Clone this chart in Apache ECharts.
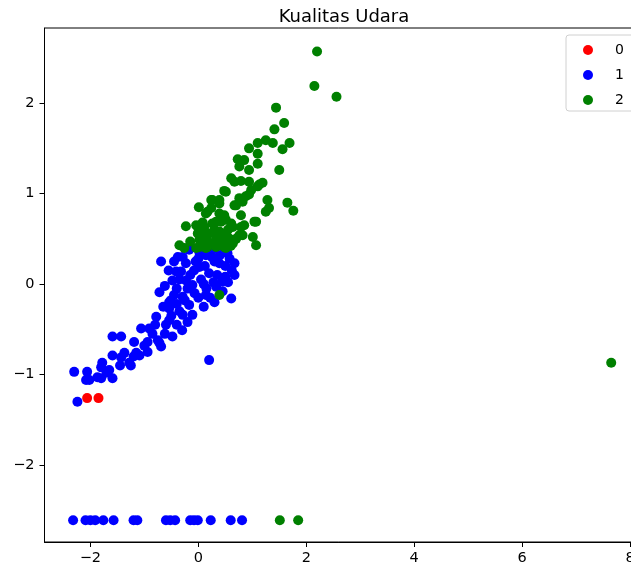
<!DOCTYPE html>
<html>
<head>
<meta charset="utf-8">
<script src="https://cdn.jsdelivr.net/npm/echarts@6/dist/echarts.min.js"></script>
<style>
html,body{margin:0;padding:0;background:#fff;}
#chart{width:631px;height:569px;}
</style>
</head>
<body>
<div id="chart"></div>
<script>
const titleText = "Kualitas Udara";
const classNames = ["0", "1", "2"];
const xTicks = [-2, 0, 2, 4, 6, 8];
const yTicks = [-2, -1, 0, 1, 2];

const class0 = [[-2.06,-1.26],[-1.85,-1.26]];

const class1 = [
  [-2.32,-2.61],[-2.09,-2.61],[-2.00,-2.61],[-1.91,-2.61],[-1.76,-2.61],[-1.57,-2.61],[-1.20,-2.61],[-1.13,-2.61],
  [-0.60,-2.61],[-0.52,-2.61],[-0.43,-2.61],[-0.15,-2.61],[-0.08,-2.61],[-0.01,-2.61],[0.23,-2.61],[0.60,-2.61],[0.81,-2.61],
  [-0.69,0.25],[-0.72,-0.09],[0.14,-0.12],[0.30,-0.20],[0.61,-0.16],[-0.54,-0.20],[-0.78,-0.36],[-0.11,-0.34],
  [-1.06,-0.49],[-0.91,-0.49],[-0.30,-0.51],[-1.59,-0.58],[-1.43,-0.58],[-1.19,-0.64],[-0.94,-0.64],[-0.69,-0.69],
  [-0.48,-0.58],[-1.59,-0.79],[-1.43,-0.81],[-1.15,-0.76],[-0.94,-0.75],[-1.80,-0.92],[-1.25,-0.90],[0.20,-0.84],
  [-2.30,-0.97],[-2.06,-0.97],[-2.08,-1.06],[-1.87,-1.03],[-1.59,-1.04],[-1.65,-0.95],[-2.24,-1.30],
  [-0.29,0.30],[-0.41,0.14],[-0.48,0.04],[-0.23,0.04],[-0.51,-0.18],[-0.29,-0.14],[-0.07,-0.10],[0.67,0.10],
  [0.67,0.23],[0.54,0.34],[0.39,0.23],[0.14,0.32],[0.02,0.19],[0.20,0.12],[0.45,0.03],[-0.11,-0.01],[-0.32,0.14],
  [-0.23,0.23],[-0.54,-0.27],[-0.17,-0.23],[-0.29,-0.34],[0.33,-0.03],
  [-0.17,0.38],[0.02,0.35],[0.26,0.38],[0.48,0.38],
  [-0.54,-0.40],[-0.72,-0.65],[-1.78,-0.87],[-1.80,-1.04],[-2.02,-1.06],[-1.09,-0.79],[-1.37,-0.76],[-1.28,-0.87],
  [0.05,0.05],[0.30,0.25],[-0.05,0.25],[0.10,0.00],[-0.40,-0.05],[0.50,0.20],[0.10,-0.25],[-0.35,-0.30],
  [-0.60,-0.45],[-0.85,-0.55],[-1.00,-0.68],[-1.20,-0.80],[-1.70,-0.98],[-1.45,-0.90],[0.35,0.10],[0.55,0.02],
  [-0.45,0.25],[-0.55,0.15],[-0.35,0.05],[-0.15,0.10],[0.00,0.28],[0.25,0.30],[0.40,0.32],[0.58,0.28],
  [0.62,0.15],[0.50,0.08],[0.28,0.02],[0.15,-0.05],[0.00,-0.15],[-0.20,-0.05],[-0.45,-0.12],[-0.62,-0.02],
  [-0.38,0.30],[0.12,0.20],[-0.08,0.15],[0.45,-0.08],[0.22,-0.15],[-0.25,-0.18],[-0.40,-0.22],[-0.65,-0.25],
  [-0.50,-0.35],[-0.20,-0.42],[-0.40,-0.45],[-0.62,-0.55],[-0.80,-0.45],[-0.75,-0.62]
];

const class2 = [
  [2.20,2.57],[2.15,2.19],[2.56,2.07],[1.44,1.95],
  [1.59,1.78],[1.41,1.71],[1.69,1.56],[1.56,1.49],[1.25,1.59],[1.10,1.56],[1.38,1.56],[0.94,1.50],[1.10,1.44],
  [0.73,1.38],[0.85,1.37],[0.76,1.30],[0.94,1.26],[1.10,1.33],[1.50,1.26],[0.61,1.17],[0.79,1.14],[1.19,1.12],
  [1.10,1.08],[0.98,1.04],[0.48,1.03],[0.88,0.97],[0.82,0.91],[0.70,0.87],[1.28,0.93],[1.31,0.84],[1.65,0.90],
  [1.76,0.81],[0.24,0.93],[0.39,0.93],[0.01,0.85],[0.17,0.80],[0.48,0.76],[0.51,0.71],[0.33,0.69],[-0.23,0.64],
  [-0.04,0.65],[0.11,0.63],[0.79,0.63],[1.07,0.69],[0.64,0.63],[0.39,0.58],[0.82,0.54],[1.01,0.52],[1.07,0.43],
  [-0.35,0.43],[-0.26,0.40],[0.02,0.49],[0.17,0.47],[0.33,0.51],[0.51,0.47],[0.64,0.45],[0.02,0.41],[0.17,0.41],
  [0.33,0.41],[0.48,0.41],[-0.01,0.56],[0.20,0.56],
  [0.51,1.02],[0.67,1.13],[0.94,1.13],[1.13,1.10],[0.94,0.99],[0.76,0.95],[0.67,0.87],[1.25,0.80],[0.26,0.93],
  [0.39,0.89],[0.24,0.84],[0.14,0.78],[0.39,0.78],[0.42,0.69],[0.26,0.67],[0.79,0.76],[0.85,0.65],[1.04,0.69],
  [0.61,0.67],[0.08,0.58],[0.51,0.56],[0.76,0.54],[-0.04,0.40],[0.14,0.40],[0.51,0.40],
  [0.05,0.45],[0.25,0.45],[0.42,0.46],[0.58,0.50],[0.10,0.52],[0.30,0.60],[-0.15,0.47],[0.00,0.62],
  [0.55,0.60],[0.70,0.50],[0.60,0.42],[0.08,0.68],[0.45,0.52],
  [0.39,-0.12],[1.51,-2.61],[1.85,-2.61],[7.65,-0.87]
];

const colors = ['#ff0000', '#0000ff', '#008000'];
const fontFam = 'DejaVu Sans, sans-serif';
const fmt = v => String(v).replace('-', '\u2212');

const chart = echarts.init(document.getElementById('chart'), null, {renderer: 'canvas'});
chart.setOption({
  animation: false,
  backgroundColor: '#fff',
  title: {
    text: titleText, left: 339, top: 3, textAlign: 'center',
    textStyle: {fontFamily: fontFam, fontSize: 18, fontWeight: 'normal', color: '#000'}
  },
  legend: {
    orient: 'vertical', left: 566, top: 35,
    data: classNames,
    icon: 'circle', itemWidth: 10, itemHeight: 10, itemGap: 11,
    padding: [8, 20, 4, 17],
    borderColor: '#d0d0d0', borderWidth: 1, borderRadius: 3,
    backgroundColor: '#fff',
    textStyle: {fontFamily: fontFam, fontSize: 14, color: '#000', padding: [0, 0, 0, 17], lineHeight: 12}
  },
  grid: {left: 44.5, width: 591, top: 28, bottom: 27, show: true, borderColor: '#000', borderWidth: 1,
         containLabel: false, outerBoundsMode: 'none'},
  xAxis: {
    type: 'value', min: -2.85, max: 8.1,
    axisLine: {show: true, onZero: false, lineStyle: {color: '#000', width: 1}},
    splitLine: {show: false},
    axisTick: {show: true, length: 5, lineStyle: {color: '#000'}, customValues: xTicks},
    axisLabel: {customValues: xTicks, formatter: fmt, fontFamily: fontFam, fontSize: 14.5, color: '#000', margin: 9}
  },
  yAxis: {
    type: 'value', min: -2.85, max: 2.83,
    axisLine: {show: true, onZero: false, lineStyle: {color: '#000', width: 1}},
    splitLine: {show: false},
    axisTick: {show: true, length: 5, lineStyle: {color: '#000'}, customValues: yTicks},
    axisLabel: {customValues: yTicks, formatter: fmt, fontFamily: fontFam, fontSize: 14.5, color: '#000', margin: 10}
  },
  series: [class0, class1, class2].map((d, i) => ({
    name: classNames[i], type: 'scatter', data: d, symbolSize: 10,
    itemStyle: {color: colors[i], opacity: 1}
  }))
});
</script>
</body>
</html>
